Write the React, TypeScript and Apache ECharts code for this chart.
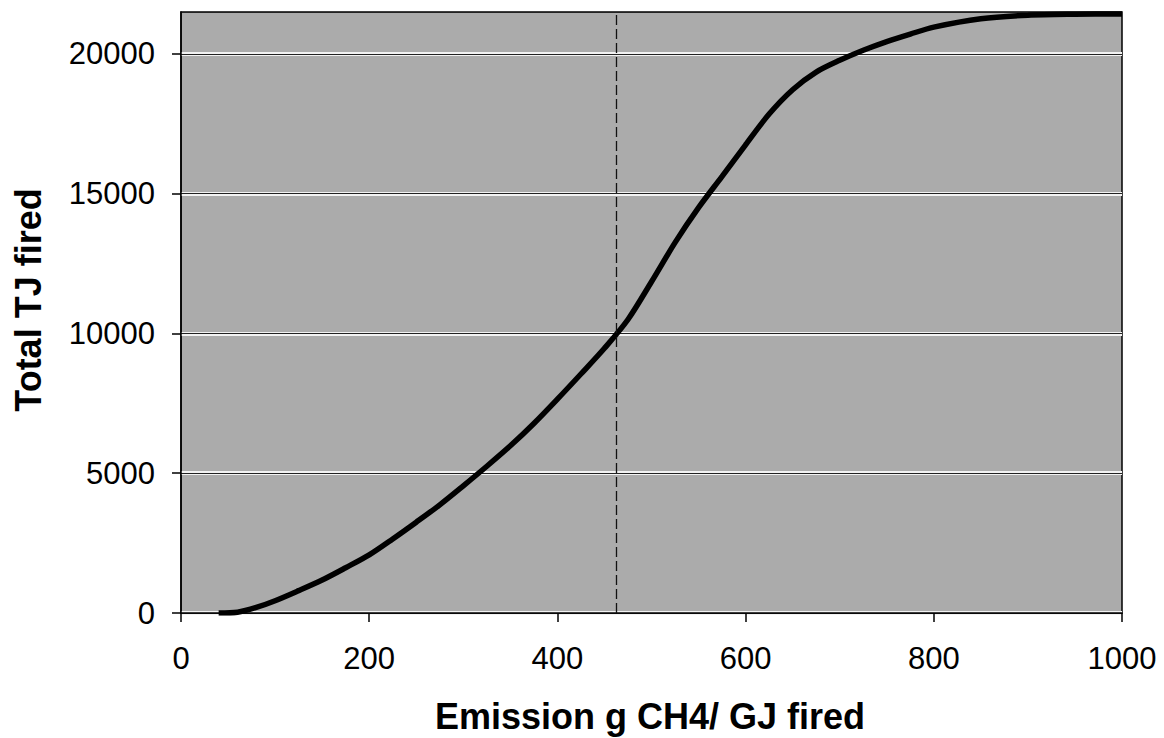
import React, { useEffect, useRef } from "react";
import * as echarts from "echarts";

const emission = [40, 60, 80, 100, 125, 150, 175, 200, 225, 250, 275, 300, 325, 350, 375, 400, 425, 450, 475, 500, 525, 550, 575, 600, 625, 650, 675, 700, 725, 750, 775, 800, 850, 900, 950, 1000];
const totalTJ = [0, 30, 200, 440, 800, 1180, 1620, 2080, 2650, 3250, 3870, 4550, 5250, 5980, 6780, 7650, 8550, 9470, 10500, 11850, 13250, 14500, 15620, 16750, 17850, 18720, 19350, 19770, 20130, 20440, 20710, 20960, 21260, 21385, 21420, 21430];
const xTicks = [0, 200, 400, 600, 800, 1000];
const yTicks = [0, 5000, 10000, 15000, 20000];
const medianX = 463;
const xTitle = "Emission g CH4/ GJ fired";
const yTitle = "Total TJ fired";

export default function App() {
  const ref = useRef<HTMLDivElement>(null);
  useEffect(() => {
    document.body.style.margin = "0";
    const chart = echarts.init(ref.current!, null, { renderer: "svg" });
    const font = "'Liberation Sans', Arial, sans-serif";
    chart.setOption({
      animation: false,
      backgroundColor: "#ffffff",
      grid: {
        left: 181,
        right: 42,
        top: 12,
        bottom: 125,
        show: true,
        backgroundColor: "#ababab",
        borderColor: "#000",
        borderWidth: 1.5,
      },
      xAxis: {
        type: "value",
        min: 0,
        max: 1000,
        interval: 200,
        axisLine: { lineStyle: { color: "#000", width: 1.5 } },
        axisTick: { show: true, length: 9, lineStyle: { color: "#000", width: 1.5 } },
        axisLabel: {
          margin: 30,
          fontSize: 31,
          color: "#000",
          fontFamily: font,
          customValues: xTicks,
          formatter: (v: number) => String(v),
        },
        splitLine: { show: false },
      },
      yAxis: [
        {
          type: "value",
          min: 0,
          max: 21500,
          interval: 5000,
          axisLine: { show: true, lineStyle: { color: "#000", width: 1.5 } },
          axisTick: { show: true, length: 9, lineStyle: { color: "#000", width: 1.5 }, customValues: yTicks },
          axisLabel: {
            margin: 26,
            fontSize: 31,
            color: "#000",
            fontFamily: font,
            customValues: yTicks,
            formatter: (v: number) => String(v),
          },
          splitLine: { show: true, lineStyle: { color: "#f2f2f2", width: 4 } },
        },
        {
          type: "value",
          min: 0,
          max: 21500,
          interval: 5000,
          position: "left",
          axisLine: { show: false },
          axisTick: { show: false },
          axisLabel: { show: false },
          splitLine: { show: true, lineStyle: { color: "#222", width: 1.2 } },
        },
      ],
      series: [
        {
          type: "line",
          data: emission.map((x, i) => [x, totalTJ[i]]),
          showSymbol: false,
          smooth: 0.3,
          lineStyle: { color: "#000", width: 5.5 },
          markLine: {
            silent: true,
            symbol: "none",
            label: { show: false },
            lineStyle: { color: "#111", width: 1.3, type: [10, 4] },
            data: [{ xAxis: medianX }],
          },
        },
      ],
      graphic: [
        {
          type: "text",
          x: 650,
          y: 716,
          style: {
            text: xTitle,
            fontSize: 36,
            fontWeight: "bold",
            fontFamily: font,
            fill: "#000",
            align: "center",
            verticalAlign: "middle",
          },
        },
        {
          type: "text",
          x: 28,
          y: 300,
          rotation: Math.PI / 2,
          style: {
            text: yTitle,
            fontSize: 36,
            fontWeight: "bold",
            fontFamily: font,
            fill: "#000",
            align: "center",
            verticalAlign: "middle",
          },
        },
      ],
    });
    return () => chart.dispose();
  }, []);
  return <div ref={ref} style={{ width: 1164, height: 738 }} />;
}
